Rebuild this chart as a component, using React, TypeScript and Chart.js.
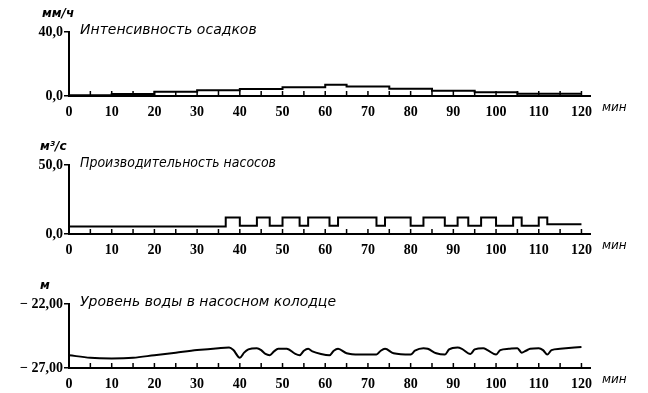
import React, { useEffect, useRef } from 'react';
import { Chart, registerables } from 'chart.js';

Chart.register(...registerables);

// ---- data ----
const xLabelsEvery = 10;
const xMinorStep = 5;

// rainfall intensity, mm/h (step starts)
const rainTimes = [0, 10, 20, 30, 40, 50, 60, 65, 75, 85, 95, 105, 120];
const rainValues = [0.4, 1.3, 2.6, 3.6, 4.4, 5.4, 7.0, 6.0, 4.5, 3.3, 2.3, 1.4, 1.4];

// pump capacity, m3/s (step starts)
const pumpTimes = [0, 36.7, 40, 44, 47, 50, 54, 56, 61, 63, 72, 74, 80, 83, 88, 91, 93.5, 96.5, 100, 104, 106, 110, 112, 120];
const pumpValues = [5.5, 12, 6, 12, 6, 12, 6, 12, 6, 12, 6, 12, 6, 12, 6, 12, 6, 12, 6, 12, 6, 12, 7, 7];

// water level in the pump well, m
const levelTimes = [0, 5, 10, 15, 20, 25, 30, 35, 37.5, 38.5, 40, 41, 42, 44, 45, 46, 47, 48, 49, 51, 53, 54, 55, 56, 57, 59, 61, 62, 63, 65, 68, 72, 73, 74, 76, 80, 81, 83, 84, 86, 88, 89, 91, 92, 94, 95, 97, 98, 100, 101, 103, 105, 106, 107, 108, 110, 111, 112, 113, 115, 120];
const levelValues = [-26.0, -26.2, -26.25, -26.2, -26.0, -25.8, -25.6, -25.45, -25.4, -25.6, -26.2, -25.8, -25.55, -25.45, -25.6, -25.9, -26.0, -25.7, -25.5, -25.5, -25.9, -26.0, -25.65, -25.5, -25.7, -25.9, -26.0, -25.65, -25.5, -25.85, -25.95, -25.95, -25.65, -25.5, -25.85, -25.95, -25.65, -25.45, -25.5, -25.85, -25.95, -25.55, -25.4, -25.5, -25.9, -25.55, -25.45, -25.6, -25.95, -25.6, -25.5, -25.45, -25.8, -25.65, -25.5, -25.45, -25.6, -25.95, -25.6, -25.5, -25.35];

const xMax = 120;

type Panel = {
  unit: string;
  title: string;
  titleWidth: number;
  yMin: number;
  yMax: number;
  decimals: number;
  times: number[];
  values: number[];
  stepped: boolean;
  top: number;
  height: number;
  padTop: number;
  xHeight: number;
  unitX: number;
};

const fmt = (v: number, d: number) => {
  const s = Math.abs(v).toFixed(d).replace('.', ',');
  return v < 0 ? '\u2212 ' + s : s;
};

const decor = {
  id: 'decor',
  afterDraw(chart: any, _args: any, opts: any) {
    const { ctx, chartArea } = chart;
    const x = chart.scales.x;
    ctx.save();
    ctx.strokeStyle = '#000';
    ctx.lineWidth = 1.5;
    x.ticks.forEach((t: any) => {
      if (t.value <= 0 || t.value > xMax) return;
      const px = x.getPixelForValue(t.value);
      ctx.beginPath();
      ctx.moveTo(px, chartArea.bottom);
      ctx.lineTo(px, chartArea.bottom - 5);
      ctx.stroke();
    });
    ctx.fillStyle = '#000';
    ctx.textBaseline = 'middle';
    ctx.textAlign = 'left';
    ctx.font = 'italic 14px "DejaVu Sans"';
    ctx.fillText(opts.title, chartArea.left + 11, chartArea.top - 2, opts.titleWidth);
    ctx.font = 'italic bold 12px "DejaVu Sans"';
    ctx.fillText(opts.unit, opts.unitX, chartArea.top - 18);
    ctx.font = 'italic 12px "DejaVu Sans"';
    ctx.fillText('мин', chartArea.right + 12, chartArea.bottom + 12);
    ctx.restore();
  },
};

const PanelChart = ({ p }: { p: Panel }) => {
  const ref = useRef<HTMLCanvasElement>(null);
  useEffect(() => {
    if (!ref.current) return;
    const chart = new Chart(ref.current, {
      type: 'line',
      data: {
        datasets: [
          {
            data: p.times.map((t, i) => ({ x: t, y: p.values[i] })),
            borderColor: '#000',
            borderWidth: 2,
            pointRadius: 0,
            fill: false,
            stepped: p.stepped ? 'before' : false,
            tension: p.stepped ? 0 : 0.35,
            cubicInterpolationMode: p.stepped ? 'default' : 'monotone',
          } as any,
        ],
      },
      options: {
        animation: false,
        responsive: false,
        events: [],
        layout: { padding: { top: p.padTop, right: 648 - 590, left: 0, bottom: 0 } },
        plugins: {
          legend: { display: false },
          tooltip: { enabled: false },
          decor: { title: p.title, unit: p.unit, unitX: p.unitX, titleWidth: p.titleWidth },
        } as any,
        scales: {
          x: {
            type: 'linear',
            min: 0,
            max: 122,
            afterFit: (s: any) => {
              s.height = p.xHeight;
            },
            ticks: {
              stepSize: xMinorStep,
              includeBounds: false,
              autoSkip: false,
              maxRotation: 0,
              padding: 0,
              color: '#000',
              font: { family: 'Liberation Serif', weight: 'bold', size: 14 },
              callback: (v: any) => (Number(v) % xLabelsEvery === 0 && Number(v) <= xMax ? String(v) : ''),
            },
            grid: { display: false },
            border: { display: true, color: '#000', width: 2 },
          },
          y: {
            type: 'linear',
            min: p.yMin,
            max: p.yMax,
            afterFit: (s: any) => {
              s.width = 69;
            },
            ticks: {
              stepSize: p.yMax - p.yMin,
              autoSkip: false,
              padding: 1,
              color: '#000',
              font: { family: 'Liberation Serif', weight: 'bold', size: 14 },
              callback: (v: any) => fmt(Number(v), p.decimals),
            },
            grid: { display: true, drawOnChartArea: false, drawTicks: true, tickLength: 5, color: '#000', lineWidth: 1.5 },
            border: { display: true, color: '#000', width: 2 },
          },
        },
      },
      plugins: [decor as any],
    });
    return () => chart.destroy();
  }, []);
  return (
    <canvas
      ref={ref}
      width={648}
      height={p.height}
      style={{ position: 'absolute', left: 0, top: p.top, width: 648, height: p.height }}
    />
  );
};

const panels: Panel[] = [
  {
    unit: 'мм/ч', title: 'Интенсивность осадков', titleWidth: 182, yMin: 0, yMax: 40, decimals: 1,
    times: rainTimes, values: rainValues, stepped: true,
    top: 0, height: 120, padTop: 32, xHeight: 24, unitX: 42,
  },
  {
    unit: 'м³/с', title: 'Производительность насосов', titleWidth: 196, yMin: 0, yMax: 50, decimals: 1,
    times: pumpTimes, values: pumpValues, stepped: true,
    top: 131, height: 125, padTop: 34, xHeight: 22, unitX: 40,
  },
  {
    unit: 'м', title: 'Уровень воды в насосном колодце', titleWidth: 256, yMin: -27, yMax: -22, decimals: 2,
    times: levelTimes, values: levelValues, stepped: false,
    top: 262, height: 131, padTop: 42, xHeight: 25, unitX: 40,
  },
];

export default function App() {
  return (
    <div style={{ position: 'fixed', left: 0, top: 0, width: 648, height: 393, background: '#fff', overflow: 'hidden' }}>
      {panels.map((p, i) => (
        <PanelChart key={i} p={p} />
      ))}
    </div>
  );
}
